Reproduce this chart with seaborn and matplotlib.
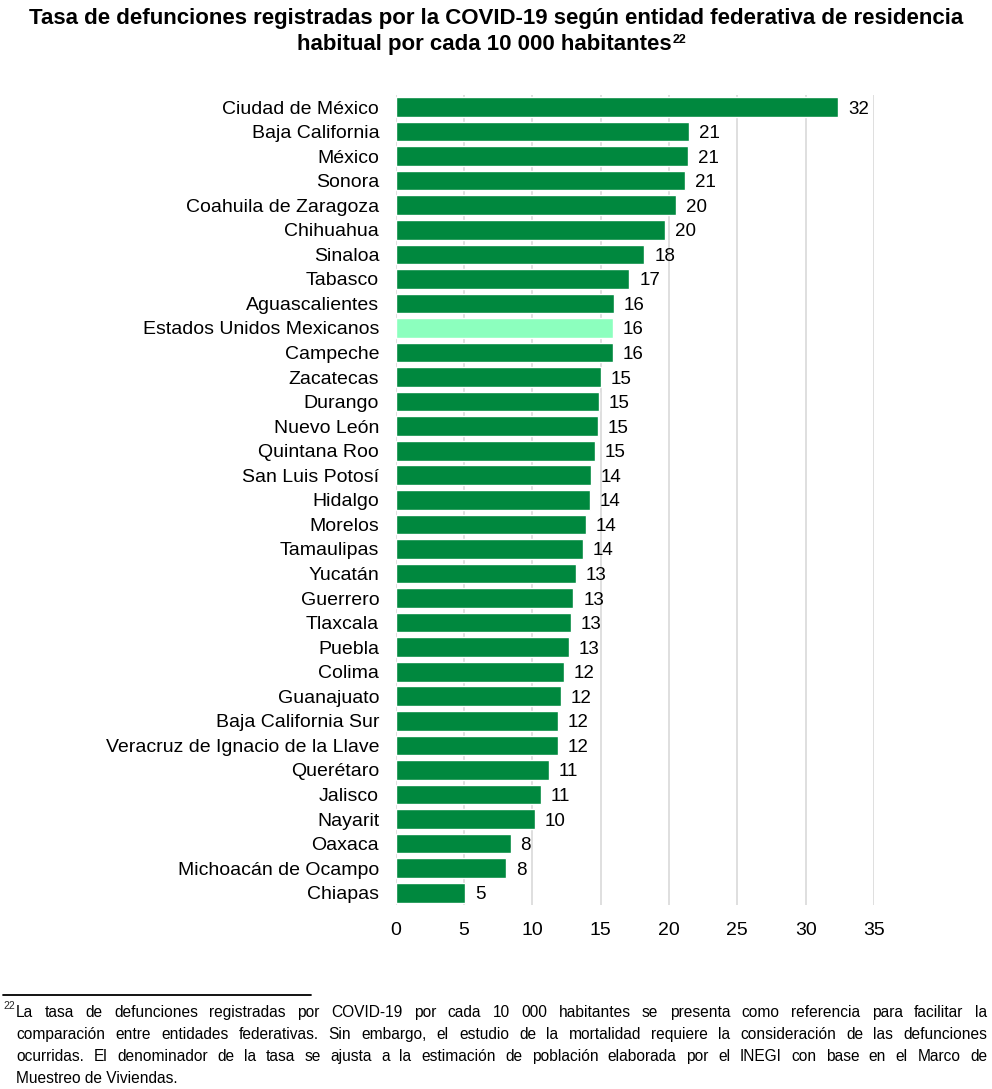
import matplotlib
matplotlib.use("Agg")
import matplotlib.pyplot as plt
import seaborn as sns
import pandas as pd

# Datos
entidades = [
    "Ciudad de México", "Baja California", "México", "Sonora", "Coahuila de Zaragoza",
    "Chihuahua", "Sinaloa", "Tabasco", "Aguascalientes", "Estados Unidos Mexicanos",
    "Campeche", "Zacatecas", "Durango", "Nuevo León", "Quintana Roo",
    "San Luis Potosí", "Hidalgo", "Morelos", "Tamaulipas", "Yucatán",
    "Guerrero", "Tlaxcala", "Puebla", "Colima", "Guanajuato",
    "Baja California Sur", "Veracruz de Ignacio de la Llave", "Querétaro", "Jalisco", "Nayarit",
    "Oaxaca", "Michoacán de Ocampo", "Chiapas",
]
tasas = [
    32.4, 21.45, 21.4, 21.2, 20.5,
    19.7, 18.2, 17.1, 16.0, 15.9,
    15.9, 15.0, 14.9, 14.8, 14.6,
    14.3, 14.2, 13.9, 13.7, 13.2,
    13.0, 12.8, 12.7, 12.3, 12.1,
    11.9, 11.9, 11.2, 10.6, 10.2,
    8.4, 8.1, 5.1,
]
etiquetas = [
    "32", "21", "21", "21", "20",
    "20", "18", "17", "16", "16",
    "16", "15", "15", "15", "15",
    "14", "14", "14", "14", "13",
    "13", "13", "13", "12", "12",
    "12", "12", "11", "11", "10",
    "8", "8", "5",
]
ticks_x = [0, 5, 10, 15, 20, 25, 30, 35]

titulo_1 = "Tasa de defunciones registradas por la COVID-19 según entidad federativa de residencia"
titulo_2 = "habitual por cada 10 000 habitantes"
nota = [
    "La tasa de defunciones registradas por COVID-19 por cada 10 000 habitantes se presenta como referencia para facilitar la",
    "comparación entre entidades federativas. Sin embargo, el estudio de la mortalidad requiere la consideración de las defunciones",
    "ocurridas. El denominador de la tasa se ajusta a la estimación de población elaborada por el INEGI con base en el Marco de",
    "Muestreo de Viviendas.",
]

VERDE = "#00883E"
VERDE_CLARO = "#8CFFBE"

sns.set_theme(style="white")
plt.rcParams["font.family"] = ["Liberation Sans", "DejaVu Sans"]

df = pd.DataFrame({"Entidad": entidades, "Tasa": tasas})
colores = {e: (VERDE_CLARO if e == "Estados Unidos Mexicanos" else VERDE) for e in entidades}

fig = plt.figure(figsize=(9.92, 10.89), dpi=100)
ax = fig.add_axes([0.399, 0.169, 0.482, 0.744])

sns.barplot(data=df, x="Tasa", y="Entidad", hue="Entidad", palette=colores,
            legend=False, width=0.8, saturation=1, ax=ax, zorder=2)

for cont, lab in zip(ax.containers, etiquetas):
    t = ax.bar_label(cont, labels=[lab], padding=7, fontsize=13.5, color="black")
    for tt in t:
        tt.set_va("center_baseline")

ax.set_xlim(0, 35)
ax.set_xticks(ticks_x)
ax.xaxis.grid(True, color="#D9D9D9", linewidth=1.2, zorder=0)
ax.yaxis.grid(False)
for s in ax.spines.values():
    s.set_visible(False)
ax.set_xlabel("")
ax.set_ylabel("")
ax.tick_params(axis="x", labelsize=14, length=0, pad=12, colors="black")
ax.tick_params(axis="y", labelsize=14, length=0, pad=12, colors="black")

# Título
fig.text(0.5, 0.993, titulo_1, ha="center", va="top", fontsize=16,
         fontweight="bold", color="black")
t2 = fig.text(0.488, 0.9685, titulo_2, ha="center", va="top", fontsize=16,
              fontweight="bold", color="black")
fig.canvas.draw()
r = fig.canvas.get_renderer()
bb = t2.get_window_extent(r)
fig.text(bb.x1 / fig.bbox.width + 0.001, bb.y1 / fig.bbox.height, "22",
         ha="left", va="top", fontsize=9, fontweight="bold", color="black")

# Línea y nota al pie
fig.add_artist(plt.Line2D([0.003, 0.314], [0.0865, 0.0865], color="black",
                          linewidth=1.3, transform=fig.transFigure))
fig.text(0.003, 0.0765, "22", fontsize=7.5, va="center", ha="left")

x0, x1 = 0.016, 0.995
y = 0.0705
paso = 0.0202
for i, linea in enumerate(nota):
    xi = x0 if i == 0 else 0.0165
    if i < len(nota) - 1:
        palabras = linea.split(" ")
        textos = [fig.text(0, 0, p, fontsize=11.2, color="black") for p in palabras]
        anchos = [t.get_window_extent(r).width / fig.bbox.width for t in textos]
        hueco = (x1 - xi - sum(anchos)) / (len(palabras) - 1)
        xp = xi
        for t, w in zip(textos, anchos):
            t.set_position((xp, y))
            t.set_va("center")
            xp += w + hueco
    else:
        fig.text(xi, y, linea, fontsize=11.2, va="center", color="black")
    y -= paso

fig.savefig("out.png", dpi=100)
